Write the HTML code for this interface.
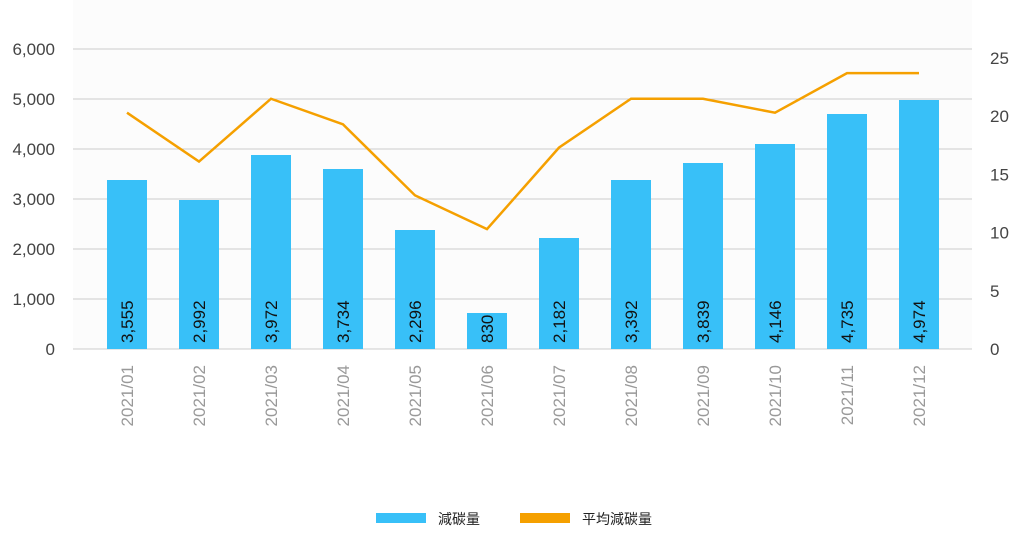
<!DOCTYPE html>
<html><head><meta charset="utf-8"><style>
body{margin:0;background:#fff;width:1015px;height:530px;overflow:hidden;font-family:"Liberation Sans","Noto Sans CJK TC",sans-serif}
</style></head><body>
<svg id="c" width="1015" height="530" xmlns="http://www.w3.org/2000/svg"></svg>
<script>
const categories=["2021/01","2021/02","2021/03","2021/04","2021/05","2021/06","2021/07","2021/08","2021/09","2021/10","2021/11","2021/12"];
const barValues=[3380,2980,3880,3600,2380,720,2220,3380,3720,4100,4700,4980];
const barLabels=["3,555","2,992","3,972","3,734","2,296","830","2,182","3,392","3,839","4,146","4,735","4,974"];
const avgValues=[20.3,16.1,21.5,19.3,13.2,10.3,17.3,21.5,21.5,20.3,23.7,23.7];
const leftTicks=[0,1000,2000,3000,4000,5000,6000];
const leftTickLabels=["0","1,000","2,000","3,000","4,000","5,000","6,000"];
const rightTicks=[0,5,10,15,20,25];
const svg=document.getElementById('c');const NS='http://www.w3.org/2000/svg';
function mk(t,a,p){const e=document.createElementNS(NS,t);for(const k in a)e.setAttribute(k,a[k]);(p||svg).appendChild(e);return e;}
const y0=349,yL=v=>y0-v*0.05,yR=v=>y0-v*(291/25),xc=i=>127+i*72;
const bg=mk('rect',{x:73,y:0,width:899,height:349,fill:'#fcfcfc'});


leftTicks.forEach((v,i)=>{
 const g=mk('line',{x1:73,x2:972,y1:yL(v),y2:yL(v),stroke:'#cccccc','stroke-width':1});
 
 
 const t=mk('text',{x:55,y:yL(v)+6,'text-anchor':'end','font-size':17,fill:'#444'});t.textContent=leftTickLabels[i];
 
 
});
rightTicks.forEach(v=>{
 const t=mk('text',{x:990,y:yR(v)+6,'font-size':17,fill:'#444'});t.textContent=v;
 
 
});
categories.forEach((c,i)=>{
 const h=y0-yL(barValues[i]);
 const b=mk('rect',{x:xc(i)-20,y:yL(barValues[i]),width:40,height:h,fill:'#38c0f8'});
 
 
 const l=mk('text',{transform:`translate(${xc(i)+6},${y0-6}) rotate(-90)`,'font-size':17,fill:'#111'});l.textContent=barLabels[i];
 
 
 const x=mk('text',{transform:`translate(${xc(i)+6},365) rotate(-90)`,'text-anchor':'end','font-size':17,fill:'#999'});x.textContent=c;
 
 
});
const pl=mk('polyline',{points:avgValues.map((v,i)=>xc(i)+','+yR(v)).join(' '),fill:'none',stroke:'#f5a000','stroke-width':2.5});


const lg=mk('g',{});


const r1=mk('rect',{x:376,y:513,width:50,height:10,fill:'#38c0f8'},lg);


const t1=mk('text',{x:438,y:524,'font-size':14,fill:'#222'},lg);t1.textContent='減碳量';


const r2=mk('rect',{x:520,y:513,width:50,height:10,fill:'#f5a000'},lg);


const t2=mk('text',{x:582,y:524,'font-size':14,fill:'#222'},lg);t2.textContent='平均減碳量';


</script>
</body></html>
